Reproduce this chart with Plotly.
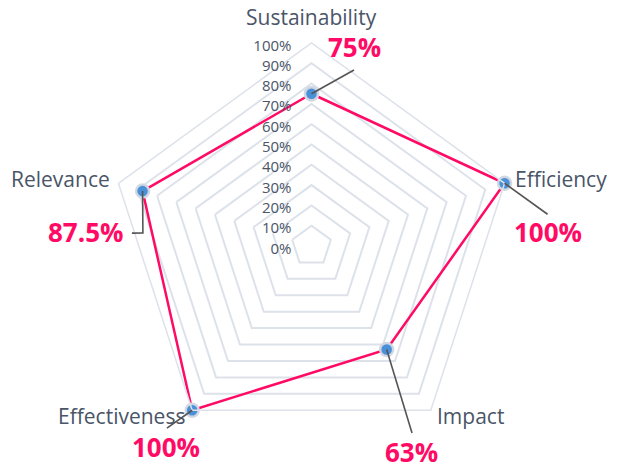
import plotly.graph_objects as go

categories = ["Sustainability", "Efficiency", "Impact", "Effectiveness", "Relevance"]
values = [75, 100, 63, 100, 87.5]
value_labels = ["75%", "100%", "63%", "100%", "87.5%"]
radial_ticks = list(range(0, 101, 10))
radial_ticktext = [f"{t}%" for t in radial_ticks]

# ---- styling / layout positions (not data) ----
PINK = "#ff0a64"
TEXT = "#4a5568"
GRID = "#dde2ea"
LEADER = "#555555"
FONT = "Open Sans"
W, H = 623, 466
# straight leader lines drawn from each data point: (direction angle deg, length px)
leader_straight = {0: (-119.2, 48.7), 1: (-54.2, 53.0), 2: (-16.9, 87.2), 3: (54.8, 30.9)}
# elbow leader (Relevance): extra vertices as (r, theta deg clockwise from top)
leader_elbow = {4: [(83.3, 274.4), (88.7, 274.1)]}
# label centres in pixels from top-left
value_label_pos = [(354, 47), (548, 232), (411, 452), (166, 447), (85, 232)]
category_label_pos = [(311, 17), (561, 179), (470, 416), (121, 416), (61, 179)]

fig = go.Figure()
fig.add_trace(go.Scatterpolar(
    r=values + [values[0]],
    theta=categories + [categories[0]],
    mode="lines+markers",
    line=dict(color=PINK, width=2.5),
    marker=dict(color="#4a90d9", size=13, line=dict(color="rgba(210,216,226,0.95)", width=2.5)),
    subplot="polar", showlegend=False, hoverinfo="skip",
))

for i, v in enumerate(values):
    theta_i = i * 360 / len(categories)
    if i in leader_straight:
        ang, length = leader_straight[i]
        fig.add_trace(go.Scatterpolar(
            r=[v], theta=[theta_i], mode="markers",
            marker=dict(symbol="line-ns", size=length / 1.4, angle=ang, standoff=length / 2,
                        color=LEADER, line=dict(color=LEADER, width=1.6)),
            subplot="polar2", showlegend=False, hoverinfo="skip", cliponaxis=False,
        ))
    if i in leader_elbow:
        fig.add_trace(go.Scatterpolar(
            r=[v] + [p[0] for p in leader_elbow[i]],
            theta=[theta_i] + [p[1] for p in leader_elbow[i]],
            mode="lines", line=dict(color=LEADER, width=1.6),
            subplot="polar2", showlegend=False, hoverinfo="skip", cliponaxis=False,
        ))

for (x, y), t in zip(value_label_pos, value_labels):
    fig.add_annotation(
        x=x / W, y=1 - y / H, xref="paper", yref="paper",
        text=f"<b>{t}</b>", showarrow=False,
        font=dict(family=FONT, size=26, color=PINK),
        xanchor="center", yanchor="middle",
    )
for (x, y), t in zip(category_label_pos, categories):
    fig.add_annotation(
        x=x / W, y=1 - y / H, xref="paper", yref="paper",
        text=t, showarrow=False,
        font=dict(family=FONT, size=21, color=TEXT),
        xanchor="center", yanchor="middle",
    )

dom = dict(x=[0, 1], y=[17 / H, 423 / H])
fig.update_layout(
    width=W, height=H,
    margin=dict(l=0, r=0, t=0, b=0),
    paper_bgcolor="white",
    font=dict(family=FONT, color=TEXT),
    polar=dict(
        domain=dom,
        bgcolor="rgba(0,0,0,0)",
        gridshape="linear",
        radialaxis=dict(
            range=[0, 100], tickvals=radial_ticks, ticktext=radial_ticktext,
            angle=90, side="counterclockwise", showline=False,
            gridcolor=GRID, gridwidth=1.5,
            ticks="outside", ticklen=6, tickcolor="rgba(0,0,0,0)",
            tickfont=dict(size=15, color=TEXT, family=FONT),
        ),
        angularaxis=dict(
            categoryorder="array", categoryarray=categories,
            rotation=90, direction="clockwise",
            showgrid=False, showline=True, linecolor=GRID, linewidth=1.5,
            ticks="", showticklabels=False,
        ),
    ),
    polar2=dict(
        domain=dom,
        bgcolor="rgba(0,0,0,0)",
        radialaxis=dict(range=[0, 100], visible=False),
        angularaxis=dict(type="linear", rotation=90, direction="clockwise", visible=False, thetaunit="degrees"),
    ),
)

fig.write_html("out.html", config={"displayModeBar": False},
               post_script="document.body.style.margin='0';")
